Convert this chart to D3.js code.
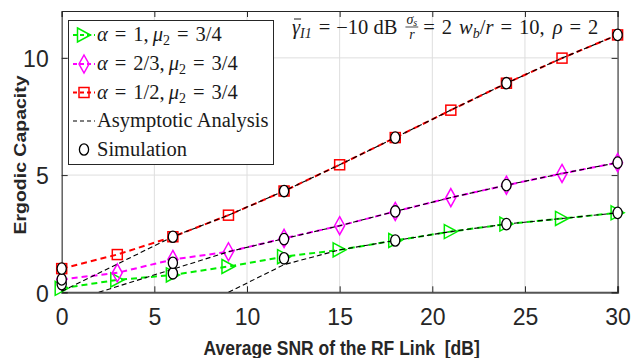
<!DOCTYPE html>
<html>
<head>
<meta charset="utf-8">
<script src="https://cdn.jsdelivr.net/npm/d3@7"></script>
<style>
  html, body { margin: 0; padding: 0; background: #fff; }
  svg { display: block; }
</style>
</head>
<body>
<svg id="chart" width="642" height="358"></svg>
<script>
// SNR grid of the analytical curves and of the Monte-Carlo runs [dB]
const snrAnalysis = [0, 3, 6, 9, 12, 15, 18, 21, 24, 27, 30];
const snrSim = [0, 6, 12, 18, 24, 30];

// Analytical ergodic capacity, mu2 = 3/4
const capAlpha1  = [0.17, 0.53, 0.74, 1.10, 1.52, 1.81, 2.21, 2.59, 2.91, 3.15, 3.39];
const capAlpha23 = [0.55, 0.83, 1.40, 1.73, 2.30, 2.84, 3.45, 4.04, 4.57, 5.07, 5.53];
const capAlpha12 = [1.01, 1.61, 2.37, 3.29, 4.32, 5.44, 6.60, 7.77, 8.92, 9.99, 10.98];

// Simulation results
const simAlpha1  = [0.35, 0.81, 1.45, 2.21, 2.91, 3.39];
const simAlpha23 = [0.55, 1.26, 2.27, 3.45, 4.57, 5.53];
const simAlpha12 = [1.01, 2.37, 4.32, 6.60, 8.92, 10.98];

// High-SNR asymptotes
const asymSnrAlpha1  = [9.0, 12, 15, 18, 21, 24, 27, 30];
const asymAlpha1     = [0, 1.18, 1.81, 2.21, 2.59, 2.91, 3.15, 3.39];
const asymSnrAlpha23 = [2.0, 9, 12, 15, 18, 21, 24, 27, 30];
const asymAlpha23    = [0, 1.73, 2.29, 2.84, 3.45, 4.04, 4.57, 5.07, 5.53];
const asymSnrAlpha12 = [0, 6, 9, 12, 15, 18, 21, 24, 27, 30];
const asymAlpha12    = [0.04, 2.37, 3.29, 4.32, 5.44, 6.60, 7.77, 8.92, 9.99, 10.98];

const xTicks = [0, 5, 10, 15, 20, 25, 30];
const yTicks = [0, 5, 10];

const GREEN = "#00ee00", MAGENTA = "#ff00ff", RED = "#ff0000";
const SANS = "'Liberation Sans', Arial, sans-serif";
const SERIF = "'Liberation Serif', 'Times New Roman', serif";
const INK = "#262626";

const svg = d3.select("#chart");
const x = d3.scaleLinear().domain([0, 30]).range([61.7, 617.6]);
const y = d3.scaleLinear().domain([0, 12]).range([292.3, 11]);

svg.append("defs").append("clipPath").attr("id", "plotClip")
  .append("rect").attr("x", x(0)).attr("y", y(12))
  .attr("width", x(30) - x(0)).attr("height", y(0) - y(12));

// grid
const grid = svg.append("g");
grid.selectAll("line.gx").data(xTicks).join("line")
  .attr("x1", d => x(d)).attr("x2", d => x(d))
  .attr("y1", y(0)).attr("y2", y(12))
  .attr("stroke", "#dedede").attr("stroke-width", 1);
grid.selectAll("line.gy").data(yTicks).join("line")
  .attr("x1", x(0)).attr("x2", x(30))
  .attr("y1", d => y(d)).attr("y2", d => y(d))
  .attr("stroke", "#dedede").attr("stroke-width", 1);

// box axes with inward ticks
const axB = svg.append("g").attr("transform", `translate(0,${y(0)})`)
  .call(d3.axisBottom(x).tickValues(xTicks).tickSize(-6).tickPadding(16).tickFormat(d3.format("d")));
const axT = svg.append("g").attr("transform", `translate(0,${y(12)})`)
  .call(d3.axisTop(x).tickValues(xTicks).tickSize(-6).tickFormat(""));
const axL = svg.append("g").attr("transform", `translate(${x(0)},0)`)
  .call(d3.axisLeft(y).tickValues(yTicks).tickSize(-6).tickPadding(13).tickFormat(d3.format("d")));
const axR = svg.append("g").attr("transform", `translate(${x(30)},0)`)
  .call(d3.axisRight(y).tickValues(yTicks).tickSize(-6).tickFormat(""));

[axB, axT, axL, axR].forEach(a => {
  a.select(".domain").attr("stroke", INK).attr("stroke-width", 1);
  a.selectAll(".tick line").attr("stroke", INK);
  a.selectAll(".tick text").attr("fill", INK)
    .style("font-family", SANS).style("font-size", "23px");
});
axB.select(".domain").attr("stroke", "#555").attr("stroke-width", 2);
axB.selectAll(".tick text").attr("dy", "0.71em");
axL.selectAll(".tick text").attr("dy", "0.38em");

// axis titles
svg.append("text")
  .attr("transform", `translate(${(x(0) + x(30)) / 2 + 2},355) scale(1,1.2)`)
  .attr("text-anchor", "middle")
  .style("font-family", SANS).style("font-size", "17.5px").style("font-weight", "bold")
  .style("white-space", "pre")
  .attr("fill", INK)
  .text("Average SNR of the RF Link\u00a0 [dB]");
svg.append("text")
  .attr("transform", `translate(25.5,155) rotate(-90) scale(1.18,1)`)
  .attr("text-anchor", "middle")
  .style("font-family", SANS).style("font-size", "16.5px").style("font-weight", "bold")
  .attr("fill", INK)
  .text("Ergodic Capacity");

// marker shapes
function marker(g, kind, cx, cy, color) {
  if (kind === "tri") {
    g.append("path").attr("d", `M${cx - 6.5},${cy - 7}L${cx + 6.5},${cy}L${cx - 6.5},${cy + 7}Z`)
      .attr("fill", "none").attr("stroke", color).attr("stroke-width", 1.5);
  } else if (kind === "dia") {
    g.append("path").attr("d", `M${cx},${cy - 9}L${cx + 5},${cy}L${cx},${cy + 9}L${cx - 5},${cy}Z`)
      .attr("fill", "none").attr("stroke", color).attr("stroke-width", 1.5);
  } else if (kind === "sq") {
    g.append("rect").attr("x", cx - 5).attr("y", cy - 5).attr("width", 10).attr("height", 10)
      .attr("fill", "none").attr("stroke", color).attr("stroke-width", 1.5);
  } else if (kind === "circ") {
    g.append("ellipse").attr("cx", cx).attr("cy", cy).attr("rx", 4.6).attr("ry", 5.7)
      .attr("fill", "#fff").attr("stroke", "#000").attr("stroke-width", 1.3);
  }
}

const line = d3.line().x(d => x(d[0])).y(d => y(d[1]));
const zip = (a, b) => a.map((v, i) => [v, b[i]]);

const analysis = [
  { snr: snrAnalysis, cap: capAlpha1, color: GREEN, kind: "tri" },
  { snr: snrAnalysis, cap: capAlpha23, color: MAGENTA, kind: "dia" },
  { snr: snrAnalysis, cap: capAlpha12, color: RED, kind: "sq" }
];
const asymptotes = [
  zip(asymSnrAlpha1, asymAlpha1),
  zip(asymSnrAlpha23, asymAlpha23),
  zip(asymSnrAlpha12, asymAlpha12)
];
const sims = [simAlpha1, simAlpha23, simAlpha12];

const plot = svg.append("g");
analysis.forEach(s => {
  const pts = zip(s.snr, s.cap);
  plot.append("path").attr("d", line(pts)).attr("fill", "none")
    .attr("stroke", s.color).attr("stroke-width", 2).attr("stroke-dasharray", "6,4")
    .attr("clip-path", "url(#plotClip)");
  pts.forEach(p => marker(plot, s.kind, x(p[0]), y(p[1]), s.color));
});
asymptotes.forEach(pts => {
  plot.append("path").attr("d", line(pts)).attr("fill", "none")
    .attr("stroke", "#000").attr("stroke-width", 1.1).attr("stroke-dasharray", "5,3")
    .attr("clip-path", "url(#plotClip)");
});
sims.forEach(vals => {
  snrSim.forEach((s, i) => marker(plot, "circ", x(s), y(vals[i])));
});

// sequential math-style text pieces, laid out left to right
function mathText(g, x0, y0, base, pieces) {
  let cx = x0;
  pieces.forEach(p => {
    const size = p.size || base;
    cx += p.pre || 0;
    const t = g.append("text").attr("x", cx).attr("y", y0 + (p.dy || 0))
      .style("font-family", SERIF).style("font-size", size + "px")
      .style("font-style", p.it ? "italic" : "normal")
      .attr("fill", "#1a1a1a").text(p.t);
    const w = t.node().getComputedTextLength();
    if (p.bar) {
      g.append("line").attr("x1", cx + 2).attr("x2", cx + w + 1)
        .attr("y1", y0 - p.bar).attr("y2", y0 - p.bar)
        .attr("stroke", "#1a1a1a").attr("stroke-width", 1);
    }
    cx += w + (p.post || 0);
  });
  return cx;
}

// legend
const lg = svg.append("g");
lg.append("rect").attr("x", 68.5).attr("y", 20.5).attr("width", 205).attr("height", 144)
  .attr("fill", "#fff").attr("stroke", INK).attr("stroke-width", 1);
const rows = [35, 64, 92.5, 121, 149.5];
const entryLabel = (a) => [
  { t: "α", it: true, post: 7 },
  { t: "=", post: 7 },
  { t: a + ",", post: 4 },
  { t: "μ", it: true },
  { t: "2", size: 14, dy: 4, post: 7 },
  { t: "=", post: 7 },
  { t: "3/4" }
];
[
  { color: GREEN, kind: "tri", a: "1" },
  { color: MAGENTA, kind: "dia", a: "2/3" },
  { color: RED, kind: "sq", a: "1/2" }
].forEach((e, i) => {
  const cy = rows[i];
  lg.append("line").attr("x1", 73).attr("x2", 95).attr("y1", cy).attr("y2", cy)
    .attr("stroke", e.color).attr("stroke-width", 1.8).attr("stroke-dasharray", "4,3");
  marker(lg, e.kind, 84, cy, e.color);
  mathText(lg, 97, cy + 6, 20.5, entryLabel(e.a));
});
lg.append("line").attr("x1", 73).attr("x2", 95).attr("y1", rows[3]).attr("y2", rows[3])
  .attr("stroke", "#000").attr("stroke-width", 1.1).attr("stroke-dasharray", "4,3");
mathText(lg, 97, rows[3] + 6, 20.5, [{ t: "Asymptotic Analysis" }]);
marker(lg, "circ", 84, rows[4]);
mathText(lg, 97, rows[4] + 6, 20.5, [{ t: "Simulation" }]);

// parameter annotation
const an = svg.append("g");
const b0 = 34;
let cx = mathText(an, 292, b0, 20.5, [
  { t: "γ", it: true, bar: 15 },
  { t: "I1", it: true, size: 14, dy: 4, post: 7 },
  { t: "=", post: 6 },
  { t: "−10 dB", post: 8 }
]);
// sigma_s over r
const numEnd = mathText(an, cx + 1, b0 - 10, 14, [
  { t: "σ", it: true },
  { t: "s", it: true, size: 10, dy: 2 }
]);
an.append("line").attr("x1", cx).attr("x2", numEnd + 1)
  .attr("y1", b0 - 7).attr("y2", b0 - 7).attr("stroke", "#1a1a1a").attr("stroke-width", 0.8);
mathText(an, cx + (numEnd - cx) / 2 - 2, b0 + 5, 14, [{ t: "r", it: true }]);
cx = numEnd + 6;
mathText(an, cx, b0, 20.5, [
  { t: "=", post: 7 },
  { t: "2", post: 7 },
  { t: "w", it: true },
  { t: "b", it: true, size: 14, dy: 4 },
  { t: "/" },
  { t: "r", it: true, post: 7 },
  { t: "=", post: 7 },
  { t: "10,", post: 8 },
  { t: "ρ", it: true, post: 7 },
  { t: "=", post: 7 },
  { t: "2" }
]);
</script>
</body>
</html>
